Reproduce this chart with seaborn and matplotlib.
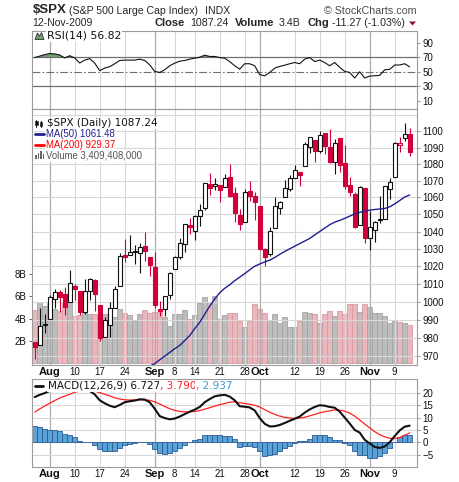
import numpy as np
import pandas as pd
import matplotlib
matplotlib.use("Agg")
import matplotlib.pyplot as plt
from matplotlib.patches import Rectangle, Polygon
from matplotlib.lines import Line2D
from matplotlib.ticker import NullLocator, NullFormatter
from matplotlib.transforms import blended_transform_factory
import seaborn as sns

# --------------------------------------------------------------
# data ($SPX daily, 29-Jul-2009 .. 12-Nov-2009)
# --------------------------------------------------------------
dates = pd.bdate_range("2009-07-29", "2009-11-12").drop(pd.Timestamp("2009-09-07"))

opens = [977.66, 976.01, 986.80, 990.22, 1001.41, 1005.41, 1004.06, 999.83, 1008.89, 1005.77,
         994.00, 1005.86, 1012.23, 998.18, 980.62, 986.88, 996.41, 1009.06, 1026.59, 1026.63,
         1027.91, 1027.81, 1031.62, 1025.21, 1019.52, 996.07, 996.12, 1003.84, 1018.67, 1025.36,
         1032.99, 1043.92, 1040.15, 1049.03, 1053.99, 1067.87, 1066.60, 1067.14, 1066.35, 1072.06,
         1062.56, 1049.48, 1045.38, 1063.69, 1061.02, 1054.91, 1029.71, 1026.87, 1042.02, 1053.65,
         1060.06, 1065.28, 1071.63, 1074.96, 1078.68, 1090.36, 1094.67, 1088.22, 1098.64, 1090.36,
         1080.96, 1095.62, 1080.36, 1067.54, 1061.82, 1043.69, 1065.41, 1036.18, 1040.92, 1047.30,
         1047.30, 1064.95, 1072.31, 1091.86, 1096.04, 1098.31]
highs = [977.76, 996.68, 993.18, 1003.61, 1007.12, 1006.64, 1008.00, 1018.00, 1010.12, 1005.77,
         1012.78, 1013.14, 1012.60, 998.18, 991.20, 999.61, 1008.92, 1027.59, 1035.82, 1037.75,
         1032.47, 1033.33, 1039.47, 1025.21, 1028.45, 1000.34, 1003.43, 1016.48, 1026.07, 1036.34,
         1044.14, 1048.18, 1049.74, 1056.04, 1068.76, 1074.77, 1071.52, 1067.28, 1073.81, 1080.15,
         1066.29, 1053.47, 1065.13, 1069.62, 1063.40, 1054.91, 1030.60, 1042.58, 1060.55, 1058.02,
         1070.67, 1073.67, 1079.46, 1075.30, 1093.17, 1096.56, 1094.67, 1100.17, 1098.64, 1101.36,
         1095.21, 1095.83, 1091.75, 1072.48, 1063.26, 1066.83, 1065.41, 1052.18, 1046.36, 1061.00,
         1066.65, 1071.48, 1093.19, 1096.42, 1105.37, 1101.97]
lows = [968.65, 976.01, 982.85, 990.22, 996.68, 994.31, 992.49, 999.83, 1000.99, 992.40,
        993.36, 1000.82, 994.60, 978.51, 980.62, 980.62, 996.39, 1009.06, 1022.48, 1026.21,
        1021.57, 1016.20, 1023.13, 1014.62, 996.28, 991.97, 992.25, 1001.65, 1018.67, 1023.97,
        1028.04, 1038.40, 1035.00, 1043.42, 1052.87, 1061.20, 1064.27, 1057.46, 1066.35, 1060.39,
        1045.85, 1041.17, 1045.38, 1057.83, 1046.47, 1029.45, 1019.95, 1025.92, 1042.02, 1050.10,
        1060.06, 1063.82, 1071.63, 1066.71, 1078.68, 1086.41, 1081.53, 1086.48, 1086.16, 1080.77,
        1074.31, 1075.49, 1065.23, 1060.62, 1042.19, 1043.69, 1033.38, 1029.38, 1033.94, 1045.15,
        1047.30, 1059.32, 1072.31, 1087.40, 1093.81, 1084.90]
closes = [975.15, 986.75, 987.48, 1002.63, 1005.65, 1002.72, 997.08, 1010.48, 1007.10, 994.35,
          1005.81, 1012.73, 1004.09, 979.73, 989.67, 996.46, 1007.37, 1026.13, 1025.57, 1028.00,
          1028.12, 1030.98, 1028.93, 1020.62, 998.04, 994.75, 1003.24, 1016.40, 1025.39, 1033.37,
          1044.14, 1042.73, 1049.34, 1052.63, 1068.76, 1065.49, 1068.30, 1064.66, 1071.66, 1060.87,
          1050.78, 1044.38, 1062.98, 1060.61, 1057.08, 1029.85, 1025.21, 1040.46, 1054.72, 1057.58,
          1065.48, 1071.49, 1076.19, 1073.19, 1092.02, 1096.56, 1087.68, 1097.91, 1091.06, 1081.40,
          1092.91, 1079.60, 1066.95, 1063.41, 1042.63, 1066.11, 1036.19, 1042.88, 1045.41, 1046.50,
          1066.63, 1069.30, 1093.08, 1093.01, 1098.51, 1087.24]
prev_close = 979.62  # 28-Jul close, sets the colour of the first bar

volume_b = [4.8, 5.5, 5.1, 5.4, 4.9, 4.7, 5.4, 6.1, 4.2, 4.3,
            4.6, 4.4, 4.4, 4.4, 4.4, 4.1, 4.1, 4.9, 4.5, 4.3,
            3.75, 4.4, 4.8, 4.5, 4.6, 4.6, 4.1, 3.3, 4.4, 4.4,
            4.8, 4.0, 4.3, 5.4, 5.9, 5.5, 6.0, 4.0, 4.3, 4.5,
            4.5, 3.8, 3.2, 3.8, 5.3, 4.9, 4.5, 3.9, 4.4, 3.6,
            4.1, 3.2, 3.2, 3.8, 4.6, 4.5, 4.4, 3.6, 4.4, 4.7,
            4.2, 4.7, 4.4, 5.3, 5.3, 4.6, 5.3, 5.0, 4.5, 4.5,
            4.2, 3.6, 3.8, 3.7, 3.6, 3.4]

ma50_first = 22
ma50 = [963.0, 964.5, 966.0, 968.0, 970.0, 972.0, 974.0, 975.8, 978.5, 981.2,
        985.0, 988.5, 993.0, 997.5, 1001.5, 1005.0, 1007.5, 1009.5, 1011.8, 1013.8,
        1015.8, 1018.0, 1020.0, 1021.3, 1022.5, 1023.5, 1025.0, 1026.8, 1028.5, 1030.0,
        1031.5, 1033.0, 1034.5, 1036.0, 1038.0, 1040.0, 1042.0, 1044.0, 1045.5, 1046.5,
        1047.7, 1049.0, 1050.3, 1051.2, 1052.0, 1052.5, 1052.9, 1053.2, 1053.5, 1054.5,
        1056.2, 1058.2, 1060.3, 1061.5]

rsi = [69.5, 71.5, 73.5, 75.0, 74.5, 73.0, 69.0, 72.0, 69.0, 62.0,
       66.0, 68.0, 62.0, 51.5, 55.0, 57.0, 61.0, 65.5, 66.0, 66.0,
       66.0, 67.3, 65.5, 59.5, 50.5, 49.0, 52.7, 58.2, 61.8, 64.5,
       65.5, 67.3, 68.6, 70.0, 72.7, 71.0, 71.0, 69.5, 68.6, 64.0,
       58.2, 53.6, 61.0, 61.0, 58.2, 46.0, 44.5, 49.0, 55.0, 57.3,
       59.0, 61.0, 62.7, 61.0, 67.3, 69.5, 64.0, 66.0, 62.7, 58.2,
       62.7, 56.0, 50.5, 49.0, 41.4, 50.0, 41.4, 44.0, 44.5, 45.0,
       52.7, 53.3, 59.3, 59.3, 61.0, 56.8]

macd = [18.3, 19.2, 19.9, 20.8, 21.8, 22.3, 22.0, 22.3, 22.0, 21.0,
        20.8, 20.8, 19.4, 17.0, 15.8, 14.8, 14.2, 15.1, 16.2, 16.6,
        16.9, 17.4, 17.3, 16.2, 13.6, 10.6, 9.8, 9.3, 9.6, 10.4,
        11.4, 12.4, 13.2, 14.3, 16.2, 17.5, 18.6, 19.0, 19.2, 18.5,
        17.0, 14.6, 14.4, 14.1, 12.9, 9.8, 7.5, 6.4, 6.5, 7.0,
        7.8, 8.7, 9.5, 10.4, 12.0, 13.3, 14.3, 15.0, 14.8, 14.3,
        14.0, 12.4, 10.0, 7.6, 5.0, 3.9, 1.0, -0.5, -1.9, -2.3,
        -1.7, 0.0, 2.5, 4.8, 6.3, 6.73]
signal = [12.2, 13.5, 14.7, 15.8, 16.9, 17.9, 18.7, 19.4, 20.3, 20.7,
          20.9, 20.9, 20.7, 20.1, 19.4, 18.8, 18.0, 17.5, 17.2, 17.1,
          17.1, 17.2, 17.2, 17.0, 16.4, 15.5, 14.5, 13.6, 12.9, 12.5,
          12.3, 12.3, 12.5, 12.8, 13.4, 14.0, 14.6, 15.2, 15.7, 16.2,
          16.4, 16.0, 15.7, 15.4, 15.0, 14.3, 13.2, 12.2, 11.3, 10.6,
          10.1, 9.8, 9.7, 9.8, 10.1, 10.7, 11.3, 11.9, 12.4, 12.7,
          13.1, 13.0, 12.6, 11.8, 10.6, 9.0, 7.4, 5.8, 4.3, 3.1,
          2.2, 1.6, 1.5, 1.9, 2.8, 3.79]
hist = [6.4, 6.0, 5.2, 5.0, 5.0, 4.4, 3.2, 3.0, 2.0, 0.6,
        0.3, 0.2, -1.0, -2.8, -3.4, -3.6, -3.5, -2.3, -1.2, -0.6,
        -0.2, 0.3, 0.2, -0.8, -2.8, -4.5, -4.8, -4.4, -3.4, -2.2,
        -1.0, 0.0, 0.8, 1.5, 2.8, 3.0, 3.0, 3.0, 2.7, 2.4,
        1.2, -1.9, -1.5, -1.4, -2.0, -3.6, -5.5, -5.3, -4.7, -3.6,
        -2.5, -1.4, -0.4, 0.5, 0.6, 1.5, 2.9, 2.9, 2.8, 2.2,
        1.0, 1.0, -0.2, -1.2, -3.5, -5.0, -5.3, -6.5, -6.3, -5.5,
        -4.2, -2.5, 0.3, 2.0, 3.0, 2.94]

tick_days = ["2009-08-03", "2009-08-10", "2009-08-17", "2009-08-24", "2009-09-01",
             "2009-09-08", "2009-09-14", "2009-09-21", "2009-09-28", "2009-10-01",
             "2009-10-12", "2009-10-19", "2009-10-26", "2009-11-02", "2009-11-09"]
tick_labels = ["Aug", "10", "17", "24", "Sep", "8", "14", "21", "28", "Oct",
               "12", "19", "26", "Nov", "9"]

price_ticks = [970, 980, 990, 1000, 1010, 1020, 1030, 1040, 1050, 1060, 1070, 1080, 1090, 1100]
price_grid = price_ticks + [1110]
vol_ticks = [2, 4, 6, 8]
rsi_ticks = [10, 30, 50, 70, 90]
macd_ticks = [-5, 0, 5, 10, 15, 20]

# --------------------------------------------------------------
# style
# --------------------------------------------------------------
sns.set_theme(style="white")
plt.rcParams["font.family"] = ["Liberation Sans", "DejaVu Sans"]
plt.rcParams["font.size"] = 7

RED = "#d1003a"
NAVY = "#1f1f8f"
FRAME = "#9c9c9c"
LIGHT = "#d8d8d8"
MONTH = "#ababab"

W, H = 460, 482
fig = plt.figure(figsize=(W / 100, H / 100), dpi=100)
fig.patch.set_facecolor("white")


def box(left, top, right, bottom):
    return [left / W, 1 - bottom / H, (right - left) / W, (bottom - top) / H]


def fx(x):
    return x / W


def fy(y):
    return 1 - y / H


ax_rsi = fig.add_axes(box(32.3, 30.7, 416.7, 108.5))
ax_vol = fig.add_axes(box(32.3, 108.5, 416.7, 365))
ax = fig.add_axes(box(32.3, 108.5, 416.7, 365))
ax_macd = fig.add_axes(box(32.3, 379.3, 416.7, 466.7))
ax.patch.set_visible(False)

idx = np.arange(len(closes))
cl = np.array(closes)
up = cl >= np.concatenate([[prev_close], cl[:-1]])
tick_pos = [dates.get_loc(pd.Timestamp(d)) for d in tick_days]
is_month = [lab.isalpha() for lab in tick_labels]
XLIM = (-0.48, 76.4)

# vertical grid (weeks light, month starts darker)
for a in (ax_rsi, ax, ax_macd):
    for p, m in zip(tick_pos, is_month):
        a.axvline(p, color=MONTH if m else LIGHT, lw=0.9 if m else 0.8, zorder=0.5)

# --------------------------------------------------------------
# RSI panel
# --------------------------------------------------------------
rsi_arr = np.array(rsi)
ax_rsi.fill_between(idx, rsi_arr, 70, where=rsi_arr > 70, interpolate=True,
                    color="#6f9f6f", lw=0, zorder=1)
ax_rsi.axhline(70, color="#707070", lw=0.9, zorder=1)
ax_rsi.axhline(30, color="#707070", lw=0.9, zorder=1)
ax_rsi.axhline(50, color="#707070", lw=0.8, ls=(0, (7, 2, 1.5, 2)), zorder=1)
sns.lineplot(x=idx, y=rsi_arr, ax=ax_rsi, color="#111111", linewidth=0.8, zorder=3)
ax_rsi.set_ylim(-0.5, 106.4)
ax_rsi.set_yticks(rsi_ticks)

# --------------------------------------------------------------
# volume (behind) and price candles
# --------------------------------------------------------------
ax_vol.bar(idx, volume_b, width=0.98,
           color=np.where(up, "#bdbdbd", "#e9b8be"),
           edgecolor=np.where(up, "#a3a3a3", "#d99aa3"), linewidth=0.6)
ax_vol.set_ylim(-0.18, 22.9)
ax_vol.set_yticks(vol_ticks)
ax_vol.set_yticklabels([f"{v}B" for v in vol_ticks])
ax_vol.yaxis.tick_left()

for a in price_grid:
    ax.axhline(a, color=LIGHT, lw=0.8, zorder=0.5)

for i in idx:
    col = "#111111" if up[i] else RED
    o, c = opens[i], closes[i]
    ax.vlines(i, lows[i], highs[i], color=col, lw=0.8, zorder=2.5)
    lo = min(o, c)
    h = max(abs(c - o), 0.6)
    face = "white" if c > o else col
    ax.add_patch(Rectangle((i - 0.37, lo), 0.74, h, facecolor=face,
                           edgecolor=col, lw=0.8, zorder=3))

sns.lineplot(x=idx[ma50_first:], y=ma50, ax=ax, color=NAVY, linewidth=1.0, zorder=4)
ax.set_yscale("log")
ax.set_ylim(965.2, 1114.1)
ax.set_yticks(price_ticks)
ax.set_yticklabels([str(t) for t in price_ticks])
ax.yaxis.set_minor_locator(NullLocator())
ax.yaxis.set_minor_formatter(NullFormatter())

# --------------------------------------------------------------
# MACD panel
# --------------------------------------------------------------
for v in macd_ticks:
    ax_macd.axhline(v, color=LIGHT, lw=0.8, zorder=0.5)
sns.barplot(x=idx, y=hist, ax=ax_macd, native_scale=True, width=0.92,
            color="#5aa3d6", edgecolor="#2c5a96", linewidth=0.6,
            saturation=1, errorbar=None, zorder=2)
sns.lineplot(x=idx, y=signal, ax=ax_macd, color="#ff2020", linewidth=0.9, zorder=3)
sns.lineplot(x=idx, y=macd, ax=ax_macd, color="#111111", linewidth=1.5, zorder=4)
ax_macd.set_ylim(-9.9, 25.5)
ax_macd.set_yticks(macd_ticks)

# --------------------------------------------------------------
# common axis cosmetics
# --------------------------------------------------------------
for a in (ax_rsi, ax, ax_macd, ax_vol):
    a.set_xlim(*XLIM)
    a.set_xticks([])
    a.set_xlabel("")
    a.set_ylabel("")
    a.grid(False)

for a in (ax_rsi, ax, ax_macd):
    a.yaxis.tick_right()
    a.tick_params(axis="y", which="major", length=2.5, width=0.6, color="#808080",
                  pad=1.5, labelsize=7, labelcolor="#111111")
    for s in a.spines.values():
        s.set_color(FRAME)
        s.set_linewidth(0.8)
    a.set_zorder(2)
ax_vol.set_zorder(1)
ax.set_zorder(3)
for s in ax_vol.spines.values():
    s.set_visible(False)
ax_vol.tick_params(axis="y", length=2.5, width=0.6, color="#555555", pad=1.5,
                   labelsize=7, labelcolor="#111111")

# date labels under the price panel and under the MACD panel
for a, yoff in ((ax, -0.0273), (ax_macd, -0.078)):
    tr = blended_transform_factory(a.transData, a.transAxes)
    for p, lab, m in zip(tick_pos, tick_labels, is_month):
        a.text(p, yoff, lab, transform=tr, ha="center", va="center",
               fontsize=8 if m else 7, fontweight="bold" if m else "normal",
               color="#111111", clip_on=False)

# --------------------------------------------------------------
# header
# --------------------------------------------------------------
fig.text(fx(32.3), fy(10), r"\$SPX", fontsize=9.5, fontweight="bold", va="center")
fig.text(fx(69.5), fy(10.5), "(S&P 500 Large Cap Index)", fontsize=7.6, va="center")
fig.text(fx(205), fy(10.5), "INDX", fontsize=7.6, va="center")
fig.text(fx(416.7), fy(10.5), "\u00a9 StockCharts.com", fontsize=7.7, va="center",
         ha="right", color="#4a4a4a")
fig.text(fx(32.3), fy(23.2), "12-Nov-2009", fontsize=7.5, va="center")
row2 = [(155, "Close", True), (190, "1087.24", False), (235, "Volume", True),
        (279, "3.4B", False), (308, "Chg", True), (332, "-11.27 (-1.03%)", False)]
for x0, s, b in row2:
    fig.text(fx(x0), fy(23.2), s, fontsize=8 if b else 7.7,
             fontweight="bold" if b else "normal", va="center")
fig.add_artist(Polygon([(fx(409), fy(21.5)), (fx(416), fy(21.5)), (fx(412.5), fy(25.5))],
                       closed=True, transform=fig.transFigure, color="#8b1028", lw=0))

# --------------------------------------------------------------
# panel legends
# --------------------------------------------------------------
WHITE = dict(facecolor="white", edgecolor="none", pad=0.6)
renderer = fig.canvas.get_renderer()


def chain(x0, y0, parts, size, family):
    x = fx(x0)
    for s, col in parts:
        t = fig.text(x, fy(y0), s, color=col, fontsize=size, va="center",
                     family=family, bbox=WHITE)
        bb = t.get_window_extent(renderer)
        x += bb.width / fig.bbox.width


# RSI
fig.add_artist(Polygon([(fx(35), fy(39.5)), (fx(37.5), fy(33)), (fx(39.5), fy(36)),
                        (fx(41.5), fy(32.5)), (fx(44), fy(39.5))], closed=True,
                       transform=fig.transFigure, facecolor="#6f9f6f",
                       edgecolor="#333333", lw=0.6, zorder=5))
chain(46.7, 36, [("RSI(14) 56.82", "#111111")], 7.8, ["DejaVu Sans"])

# price
for xx, yt, yb in ((36.5, 119.5, 126.5), (41, 120.5, 127)):
    fig.add_artist(Line2D([fx(xx), fx(xx)], [fy(yt), fy(yb)], transform=fig.transFigure,
                          color="#111111", lw=0.7, zorder=5))
    fig.add_artist(Rectangle((fx(xx - 1.2), fy(yb - 1.5)), fx(2.4), (yb - yt - 3) / H,
                             transform=fig.transFigure, facecolor="#111111",
                             edgecolor="#111111", lw=0.4, zorder=5))
chain(46.7, 123.3, [(r"\$SPX (Daily) 1087.24", "#111111")], 7.5, ["DejaVu Sans"])
fig.add_artist(Line2D([fx(35.5), fx(44)], [fy(134.3)] * 2, transform=fig.transFigure,
                      color=NAVY, lw=2.0, zorder=5))
chain(45.7, 134.3, [("MA(50) 1061.48", NAVY)], 6.9, ["Liberation Sans"])
fig.add_artist(Line2D([fx(35.5), fx(44)], [fy(145.3)] * 2, transform=fig.transFigure,
                      color="#ff0000", lw=2.0, zorder=5))
chain(45.7, 145.3, [("MA(200) 929.37", "#ff0000")], 6.9, ["Liberation Sans"])
for xx, hh in ((36, 4), (38.5, 6), (41, 8), (43.5, 5)):
    fig.add_artist(Rectangle((fx(xx - 0.9), fy(159.5)), fx(1.8), hh / H,
                             transform=fig.transFigure, facecolor="#666666",
                             edgecolor="none", zorder=5))
chain(45.7, 155.7, [("Volume 3,409,408,000", "#555555")], 6.9, ["Liberation Sans"])

# MACD
fig.add_artist(Line2D([fx(35), fx(43.3)], [fy(386)] * 2, transform=fig.transFigure,
                      color="#111111", lw=2.0, zorder=5))
chain(47.7, 386, [("MACD(12,26,9) 6.727", "#111111"), (", 3.790", "#ff2020"),
                  (", 2.937", "#3d9ad1")], 7.5, ["DejaVu Sans"])

fig.savefig("out.png", dpi=100, facecolor="white")
